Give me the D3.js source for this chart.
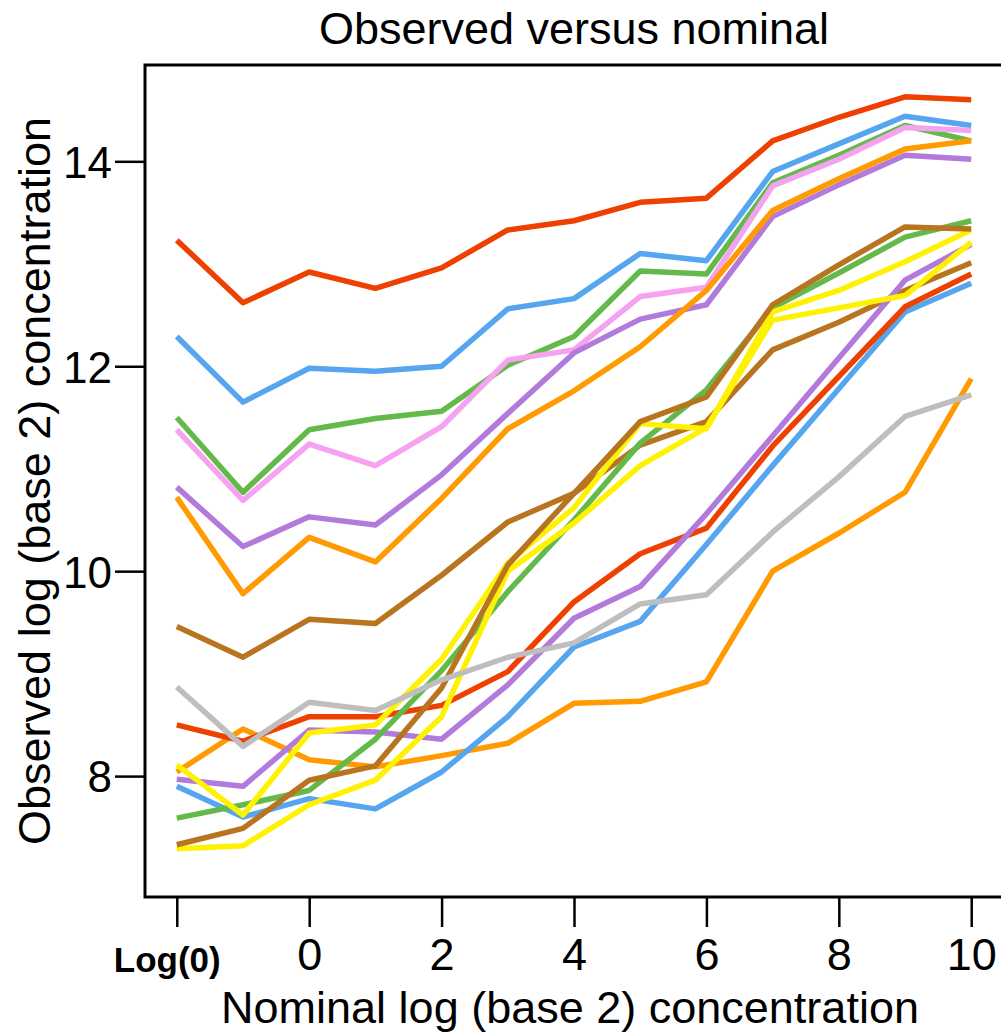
<!DOCTYPE html>
<html lang="en">
<head>
    <meta charset="UTF-8">
    <title>Observed versus nominal</title>
    <style>
        body { margin: 0; background: #fff; }
        svg { display: block; font-family: "Liberation Sans", Arial, Helvetica, sans-serif; }
        .tick text { fill: #000; }
    </style>
</head>
<body>
    <div id="chart"></div>

    <script src="https://d3js.org/d3.v7.min.js"></script>
    <script>
        // nominal log2 concentration; -2 stands for Log(0)
        const nominal = [-2, -1, 0, 1, 2, 3, 4, 5, 6, 7, 8, 9, 10];
        const xTicks = [-2, 0, 2, 4, 6, 8, 10];
        const yTicks = [8, 10, 12, 14];

        // upper group
        const redHigh    = [13.23, 12.62, 12.92, 12.76, 12.96, 13.33, 13.42, 13.60, 13.64, 14.20, 14.43, 14.63, 14.60];
        const blueHigh   = [12.29, 11.65, 11.98, 11.95, 12.00, 12.56, 12.66, 13.10, 13.03, 13.90, 14.17, 14.44, 14.35];
        const greenHigh  = [11.50, 10.77, 11.38, 11.49, 11.56, 12.01, 12.29, 12.93, 12.90, 13.79, 14.06, 14.35, 14.20];
        const pinkHigh   = [11.38, 10.69, 11.24, 11.03, 11.41, 12.06, 12.16, 12.68, 12.77, 13.76, 14.02, 14.33, 14.30];
        const purpleHigh = [10.82, 10.24, 10.53, 10.45, 10.94, 11.54, 12.13, 12.46, 12.60, 13.46, 13.77, 14.06, 14.02];
        const orangeHigh = [10.72, 9.78, 10.33, 10.09, 10.71, 11.39, 11.76, 12.19, 12.74, 13.52, 13.83, 14.12, 14.20];
        const brownHigh  = [9.46, 9.16, 9.53, 9.49, 9.96, 10.48, 10.76, 11.23, 11.46, 12.16, 12.43, 12.74, 13.01];

        // lower group
        const redLow     = [8.50, 8.34, 8.58, 8.58, 8.69, 9.02, 9.70, 10.17, 10.42, 11.22, 11.90, 12.58, 12.90];
        const blueLow    = [7.90, 7.60, 7.78, 7.68, 8.04, 8.58, 9.26, 9.51, 10.26, 11.03, 11.78, 12.53, 12.81];
        const purpleLow  = [7.97, 7.90, 8.45, 8.43, 8.36, 8.89, 9.54, 9.85, 10.56, 11.32, 12.08, 12.84, 13.19];
        const orangeLow  = [8.04, 8.46, 8.16, 8.09, 8.20, 8.32, 8.71, 8.73, 8.92, 10.00, 10.37, 10.77, 11.88];
        const greenLow   = [7.59, 7.72, 7.86, 8.36, 9.03, 9.80, 10.50, 11.25, 11.77, 12.57, 12.91, 13.26, 13.42];
        const brownLow   = [7.33, 7.49, 7.96, 8.10, 8.86, 10.06, 10.76, 11.46, 11.70, 12.60, 12.99, 13.36, 13.34];
        const yellowA    = [8.11, 7.62, 8.42, 8.50, 9.14, 10.08, 10.62, 11.44, 11.39, 12.53, 12.74, 13.02, 13.33];
        const yellowB    = [7.29, 7.32, 7.72, 7.96, 8.58, 10.00, 10.47, 11.03, 11.40, 12.45, 12.57, 12.69, 13.21];
        const grayLow    = [8.87, 8.29, 8.72, 8.64, 8.94, 9.16, 9.30, 9.68, 9.77, 10.38, 10.92, 11.51, 11.72];

        const series = [
            { values: redHigh, color: '#ee4000' },
            { values: blueHigh, color: '#55a6ee' },
            { values: greenHigh, color: '#63ba4b' },
            { values: pinkHigh, color: '#f5a2f0' },
            { values: purpleHigh, color: '#b27adb' },
            { values: orangeHigh, color: '#ff9a00' },
            { values: brownHigh, color: '#b8741f' },
            { values: orangeLow, color: '#ff9a00' },
            { values: blueLow, color: '#55a6ee' },
            { values: redLow, color: '#ee4000' },
            { values: purpleLow, color: '#b27adb' },
            { values: greenLow, color: '#63ba4b' },
            { values: yellowB, color: '#fff200' },
            { values: yellowA, color: '#fff200' },
            { values: brownLow, color: '#b8741f' },
            { values: grayLow, color: '#bebebe' }
        ];

        const W = 1001, H = 1034;
        const box = { left: 145, right: 1003, top: 65, bottom: 897 };

        const svg = d3.select('#chart')
            .append('svg')
            .attr('width', W)
            .attr('height', H);

        const x = d3.scaleLinear()
            .domain([-2.48, 10.48])
            .range([box.left, box.right]);

        const y = d3.scaleLinear()
            .domain([6.82, 14.94])
            .range([box.bottom, box.top]);

        // lines
        const line = d3.line()
            .x((d, i) => x(nominal[i]))
            .y(d => y(d));

        svg.append('g')
            .selectAll('path')
            .data(series)
            .enter()
            .append('path')
            .attr('d', d => line(d.values))
            .attr('fill', 'none')
            .attr('stroke', d => d.color)
            .attr('stroke-width', 5.5)
            .attr('stroke-linejoin', 'round');

        // box
        svg.append('rect')
            .attr('x', box.left)
            .attr('y', box.top)
            .attr('width', box.right - box.left)
            .attr('height', box.bottom - box.top)
            .attr('fill', 'none')
            .attr('stroke', '#000')
            .attr('stroke-width', 3);

        // x axis
        const xAxis = svg.append('g')
            .attr('transform', `translate(0,${box.bottom})`)
            .call(d3.axisBottom(x)
                .tickValues(xTicks)
                .tickSize(30)
                .tickPadding(10)
                .tickFormat(d => d === -2 ? 'Log(0)' : d));
        xAxis.select('.domain').remove();
        xAxis.selectAll('.tick line').attr('stroke', '#000').attr('stroke-width', 2.5);
        xAxis.selectAll('.tick text')
            .attr('font-size', 45)
            .attr('y', 73)
            .attr('dy', 0);
        xAxis.selectAll('.tick text')
            .filter(d => d === -2)
            .attr('font-size', 35)
            .attr('font-weight', 'bold')
            .attr('dx', -10)
            .attr('y', 75);

        // y axis
        const yAxis = svg.append('g')
            .attr('transform', `translate(${box.left},0)`)
            .call(d3.axisLeft(y)
                .tickValues(yTicks)
                .tickSize(30)
                .tickPadding(3));
        yAxis.select('.domain').remove();
        yAxis.selectAll('.tick line').attr('stroke', '#000').attr('stroke-width', 2.5);
        yAxis.selectAll('.tick text')
            .attr('font-size', 44)
            .attr('dy', '0.36em');

        // titles
        svg.append('text')
            .attr('x', (box.left + box.right) / 2)
            .attr('y', 44)
            .attr('text-anchor', 'middle')
            .attr('font-size', 45)
            .text('Observed versus nominal');

        svg.append('text')
            .attr('x', (box.left + box.right) / 2 - 4)
            .attr('y', 1023)
            .attr('text-anchor', 'middle')
            .attr('font-size', 45)
            .text('Nominal log (base 2) concentration');

        svg.append('text')
            .attr('transform', `translate(50,${(box.top + box.bottom) / 2}) rotate(-90)`)
            .attr('text-anchor', 'middle')
            .attr('font-size', 45)
            .text('Observed log (base 2) concentration');
    </script>
</body>
</html>
